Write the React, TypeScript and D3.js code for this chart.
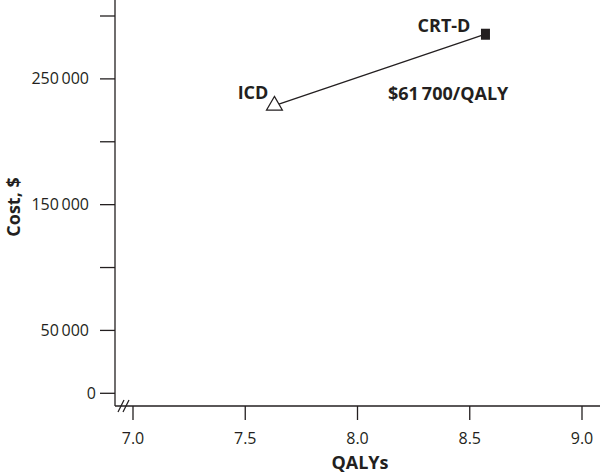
import React, { useEffect, useRef } from "react";
import * as d3 from "d3";

const strategies = ["ICD", "CRT-D"];
const qalys = [7.63, 8.57];
const costs = [228800, 285500];
const icerLabel = "$61\u2009700/QALY";
const xTicks = [7.0, 7.5, 8.0, 8.5, 9.0];
const yTicks = [0, 50000, 100000, 150000, 200000, 250000, 300000];
const yLabeled = [0, 50000, 150000, 250000];

const W = 600;
const H = 475;
const FONT = "'Open Sans', 'Noto Sans', sans-serif";
const INK = "#231f20";

export default function App() {
  const ref = useRef<SVGSVGElement>(null);

  useEffect(() => {
    const svg = d3.select(ref.current);
    svg.selectAll("*").remove();

    const x = d3.scaleLinear().domain([7, 9]).range([133, 582]);
    const y = d3.scaleLinear().domain([0, 300000]).range([393.3, 16]);
    const axisX0 = 115;
    const axisY0 = 406;

    const g = svg.append("g");

    g.append("line")
      .attr("x1", axisX0).attr("x2", axisX0)
      .attr("y1", 0).attr("y2", axisY0)
      .attr("stroke", INK).attr("stroke-width", 1.3);
    g.append("line")
      .attr("x1", axisX0).attr("x2", W)
      .attr("y1", axisY0).attr("y2", axisY0)
      .attr("stroke", INK).attr("stroke-width", 1.3);

    g.selectAll(".yt").data(yTicks).enter().append("line")
      .attr("x1", axisX0 - 15).attr("x2", axisX0)
      .attr("y1", d => y(d)).attr("y2", d => y(d))
      .attr("stroke", INK).attr("stroke-width", 1.3);
    g.selectAll(".yl").data(yLabeled).enter().append("text")
      .attr("x", d => (d === 0 ? 96 : 89)).attr("y", d => y(d))
      .attr("dy", "0.35em")
      .attr("text-anchor", "end")
      .attr("font-family", FONT).attr("font-size", 16)
      .attr("fill", INK)
      .text(d => d3.format(",")(d).replace(/,/g, "\u2009"));

    g.selectAll(".xt").data(xTicks).enter().append("line")
      .attr("x1", d => x(d)).attr("x2", d => x(d))
      .attr("y1", axisY0).attr("y2", axisY0 + 14)
      .attr("stroke", INK).attr("stroke-width", 1.3);
    g.selectAll(".xl").data(xTicks).enter().append("text")
      .attr("x", d => x(d)).attr("y", 443.5)
      .attr("text-anchor", "middle")
      .attr("font-family", FONT).attr("font-size", 16)
      .attr("fill", INK)
      .text(d => d3.format(".1f")(d));

    [118, 123].forEach(bx => {
      g.append("line")
        .attr("x1", bx).attr("y1", axisY0 + 6)
        .attr("x2", bx + 6).attr("y2", axisY0 - 6)
        .attr("stroke", INK).attr("stroke-width", 1.2);
    });

    g.append("text")
      .attr("x", 360).attr("y", 469)
      .attr("text-anchor", "middle")
      .attr("font-family", FONT).attr("font-size", 18).attr("font-weight", 700)
      .attr("fill", INK)
      .text("QALYs");
    g.append("text")
      .attr("transform", `translate(20,${207}) rotate(-90)`)
      .attr("text-anchor", "middle")
      .attr("font-family", FONT).attr("font-size", 18).attr("font-weight", 700)
      .attr("fill", INK)
      .text("Cost, $");

    const pts = qalys.map((q, i) => [x(q), y(costs[i])] as [number, number]);
    g.append("path")
      .attr("d", d3.line()(pts) as string)
      .attr("stroke", INK).attr("stroke-width", 1.3).attr("fill", "none");

    g.append("path")
      .attr("d", d3.symbol().type(d3.symbolTriangle).size(110)() as string)
      .attr("transform", `translate(${pts[0][0]},${pts[0][1]})`)
      .attr("fill", "white").attr("stroke", INK).attr("stroke-width", 1.2);
    g.append("rect")
      .attr("x", pts[1][0] - 4.5).attr("y", pts[1][1] - 5.5)
      .attr("width", 9).attr("height", 11)
      .attr("fill", INK);

    g.append("text")
      .attr("x", pts[0][0] - 6).attr("y", pts[0][1] - 6.5)
      .attr("text-anchor", "end")
      .attr("font-family", FONT).attr("font-size", 18).attr("font-weight", 700)
      .attr("fill", INK)
      .text(strategies[0]);
    g.append("text")
      .attr("x", pts[1][0] - 15).attr("y", pts[1][1] - 2.5)
      .attr("text-anchor", "end")
      .attr("font-family", FONT).attr("font-size", 18).attr("font-weight", 700)
      .attr("fill", INK)
      .text(strategies[1]);
    g.append("text")
      .attr("x", 388).attr("y", 100)
      .attr("text-anchor", "start")
      .attr("font-family", FONT).attr("font-size", 18).attr("font-weight", 700)
      .attr("fill", INK)
      .text(icerLabel);
  }, []);

  return (
    <svg
      ref={ref}
      width={W}
      height={H}
      style={{ position: "absolute", left: 0, top: 0, background: "white" }}
    />
  );
}
